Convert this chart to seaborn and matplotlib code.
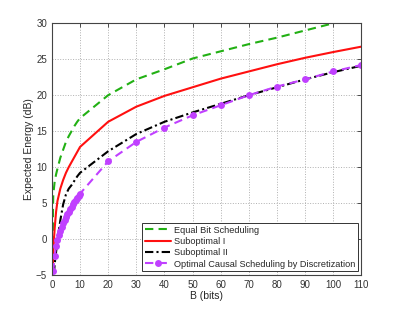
import matplotlib
matplotlib.use("Agg")
import matplotlib.pyplot as plt
import numpy as np
import pandas as pd
import seaborn as sns

# ==============================================================================
# DATA
# ==============================================================================
b_equal = [0.3, 0.35, 0.4, 0.5, 1, 1.5, 2, 3, 4, 5, 6, 7, 8, 9, 10,
           20, 30, 40, 50, 60, 70, 80, 90, 100, 110]
e_equal = [-4.5, 0.0, 4.0, 6.2, 8.0, 9.0, 9.8, 11.3, 12.4, 13.5, 14.3, 15.0,
           15.7, 16.3, 16.8, 20.0, 22.2, 23.6, 25.1, 26.1, 27.1, 28.0, 29.0,
           30.0, 30.8]

b_sub1 = [0.3, 0.5, 0.75, 1, 1.5, 2, 3, 4, 5, 6, 7, 8, 9, 10,
          20, 30, 40, 50, 60, 70, 80, 90, 100, 110]
e_sub1 = [-4.5, -2.0, 0.0, 1.5, 3.8, 5.3, 7.0, 8.2, 9.2, 10.0, 10.7, 11.4,
          12.1, 12.8, 16.3, 18.4, 19.9, 21.1, 22.3, 23.3, 24.3, 25.2, 26.0,
          26.75]

b_sub2 = [0.75, 1, 1.5, 2, 2.5, 3, 4, 5, 6, 7, 8, 9, 10,
          20, 30, 40, 50, 60, 70, 80, 90, 100, 110]
e_sub2 = [-4.8, -3.5, -1.8, -0.3, 1.2, 2.6, 4.8, 6.2, 7.0, 7.5, 8.1, 8.7,
          9.2, 12.2, 14.6, 16.3, 17.6, 18.8, 20.0, 21.1, 22.2, 23.2, 24.1]

b_opt = [0.5, 1.0, 1.5, 2.0, 2.5, 3.0, 3.5, 4.0, 4.5, 5.0, 5.5, 6.0, 6.5,
         7.0, 7.5, 8.0, 8.5, 9.0, 9.5, 10.0,
         20, 30, 40, 50, 60, 70, 80, 90, 100, 110]
e_opt = [-4.5, -2.3, -1.0, -0.1, 0.5, 1.1, 1.7, 2.2, 2.7, 3.1, 3.5, 3.8, 4.2,
         4.5, 4.8, 5.1, 5.4, 5.7, 6.0, 6.3,
         10.8, 13.5, 15.5, 17.2, 18.6, 20.0, 21.2, 22.2, 23.3, 24.2]

labels = ["Equal Bit Scheduling", "Suboptimal I", "Suboptimal II",
          "Optimal Causal Scheduling by Discretization"]

x_ticks = list(range(0, 111, 10))
y_ticks = list(range(-5, 31, 5))

sns.set_style("white")
plt.rcParams["font.family"] = ["Liberation Sans", "DejaVu Sans"]


def make_frame(b, e):
    return pd.DataFrame({"B": b, "E": e})


# ==============================================================================
# PLOT
# ==============================================================================
fig = plt.figure(figsize=(3.99, 3.10), dpi=100)
ax = fig.add_axes([0.130, 0.113, 0.776, 0.812])

sns.lineplot(data=make_frame(b_equal, e_equal), x="B", y="E", ax=ax,
             color="#22b014", linestyle=(0, (4, 2.5)), linewidth=1.5,
             label=labels[0])
sns.lineplot(data=make_frame(b_sub1, e_sub1), x="B", y="E", ax=ax,
             color="#ff1010", linestyle="-", linewidth=1.5,
             label=labels[1])
sns.lineplot(data=make_frame(b_sub2, e_sub2), x="B", y="E", ax=ax,
             color="black", linestyle=(0, (4, 1.5, 1, 1.5)), linewidth=1.5,
             label=labels[2])
sns.lineplot(data=make_frame(b_opt, e_opt), x="B", y="E", ax=ax,
             color="#c040ff", linestyle=(0, (4, 2.5)), linewidth=1.5,
             marker="o", markersize=5, markeredgewidth=0,
             label=labels[3])

ax.set_xlim(0, 110)
ax.set_ylim(-5, 30)
ax.set_xticks(x_ticks)
ax.set_yticks(y_ticks)
ax.grid(True, linestyle=":", color="#b0b0b0", linewidth=0.7)
ax.tick_params(direction="in", length=3, labelsize=7, colors="#333333",
               top=True, right=True, width=0.6)
for s in ax.spines.values():
    s.set_color("#444444")
    s.set_linewidth(0.8)

ax.set_xlabel("B (bits)", fontsize=7.5, labelpad=1)
ax.set_ylabel("Expected Energy (dB)", fontsize=7.5, labelpad=1)

leg = ax.legend(loc="lower right", fontsize=6.6, frameon=True, fancybox=False,
                edgecolor="#333333", framealpha=1, borderpad=0.3,
                labelspacing=0.25, handlelength=2.9, handletextpad=0.25,
                borderaxespad=0.4)
leg.get_frame().set_linewidth(0.7)

fig.savefig("out.png", dpi=100)
